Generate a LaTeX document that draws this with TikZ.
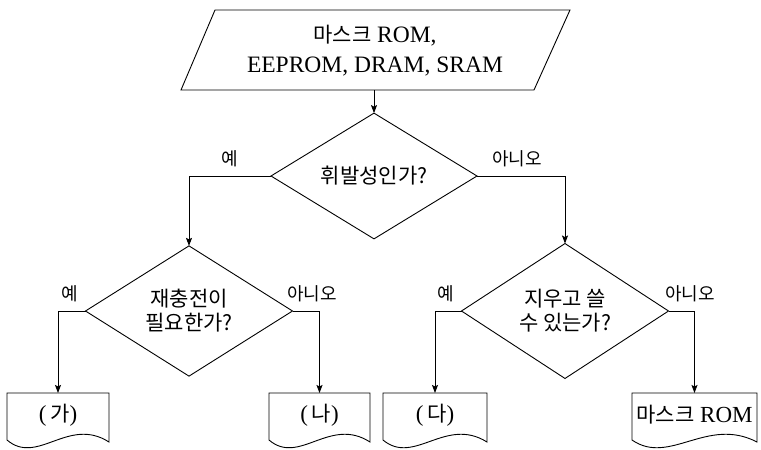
\documentclass[tikz,border=0pt]{standalone}
\usepackage{fontspec}
\setmainfont{Liberation Serif}
\newfontfamily\kr{Noto Sans CJK KR}
\usetikzlibrary{shapes.geometric,arrows.meta,calc}
\tikzset{
  ln/.style={line width=0.9pt},
  arr/.style={ln,-{Stealth[length=8pt,width=6pt,inset=1.5pt]}},
  dia/.style={shape=diamond,draw,ln,inner sep=0pt,outer sep=0pt,align=center,
    font=\kr\fontsize{21}{24}\selectfont},
  lbl/.style={font=\kr\fontsize{18}{20}\selectfont,inner sep=0pt},
  docbox/.style={inner sep=0pt,outer sep=0pt,minimum height=44pt,
    font=\fontsize{23}{25}\selectfont}
}
\newcommand\kt[1]{{\kr\fontsize{21}{24}\selectfont #1}}
\newcommand\docpath[1]{%
  \draw[ln] (#1.north west) -- (#1.north east) -- ($(#1.south east)+(0pt,-5pt)$)
    .. controls ($(#1.south west)!0.6!(#1.south east)+(0pt,21pt)$)
    and ($(#1.south west)!0.3!(#1.south east)+(0pt,-29pt)$)
    .. ($(#1.south west)+(0pt,-3pt)$) -- cycle;}
\begin{document}
\begin{tikzpicture}[x=1pt,y=-1pt]
\useasboundingbox (0,0) rectangle (761,450);
% start parallelogram
\coordinate (p1) at (215,10);
\coordinate (p2) at (570,10);
\coordinate (p3) at (534,90);
\coordinate (p4) at (181,90);
\draw[ln] (p1) -- (p2) -- (p3) -- (p4) -- cycle;
\node[align=center,inner sep=0pt,font=\fontsize{23.5}{30}\selectfont] (start) at (375,51)
  {\kt{마스크} ROM,\\EEPROM, DRAM, SRAM};
\coordinate (sb) at (374,90);
% diamonds
\node[dia,minimum width=206pt,minimum height=98pt] (d1) at (374,176) {휘발성인가?};
\node[dia,minimum width=207pt,minimum height=96pt] (d2) at (189,311) {재충전이\\필요한가?};
\node[dia,minimum width=207pt,minimum height=96pt] (d3) at (565,311) {지우고 쓸\\수 있는가?};
% docs
\node[docbox,minimum width=102pt] (ga) at (58,415) {(\,\kt{가})};
\node[docbox,minimum width=101pt] (na) at (319.5,415) {(\,\kt{나})};
\node[docbox,minimum width=104pt] (da) at (435,415) {(\,\kt{다})};
\node[docbox,minimum width=125pt] (rom) at (694.5,415) {\kt{마스크} ROM};
\docpath{ga}
\docpath{na}
\docpath{da}
\docpath{rom}
% connectors
\draw[arr] (sb) -- (d1.north);
\draw[arr] (d1.west) -| (d2.north);
\draw[arr] (d1.east) -| (d3.north);
\draw[arr] (d2.west) -| (ga.north);
\draw[arr] (d2.east) -| (na.north);
\draw[arr] (d3.west) -| (da.north);
\draw[arr] (d3.east) -| (rom.north);
% labels
\node[lbl] (l1) at (230,159) {예};
\node[lbl] (l2) at (517,159) {아니오};
\node[lbl] (l3) at (70,294) {예};
\node[lbl] (l4) at (312,294) {아니오};
\node[lbl] (l5) at (446,294) {예};
\node[lbl] (l6) at (690,294) {아니오};
\end{tikzpicture}
\end{document}
